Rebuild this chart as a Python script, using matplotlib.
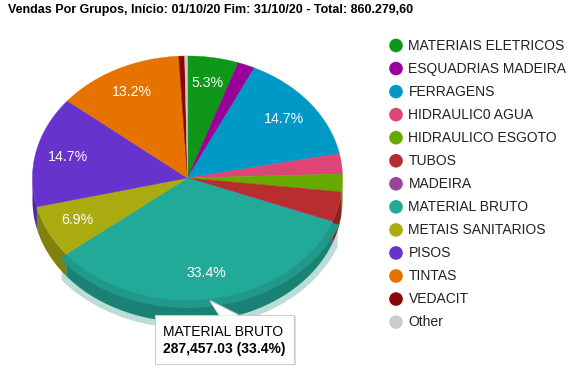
import numpy as np
import matplotlib
matplotlib.use("Agg")
import matplotlib.pyplot as plt
from matplotlib.patches import Polygon, Circle, Rectangle
from matplotlib.colors import to_rgb

plt.rcParams['font.family'] = ['Liberation Sans', 'DejaVu Sans']

# data
groups = ['MATERIAIS ELETRICOS', 'ESQUADRIAS MADEIRA', 'FERRAGENS', 'HIDRAULIC0 AGUA',
          'HIDRAULICO ESGOTO', 'TUBOS', 'MADEIRA', 'MATERIAL BRUTO', 'METAIS SANITARIOS',
          'PISOS', 'TINTAS', 'VEDACIT', 'Other']
values = [45600, 15500, 126400, 23022.57, 20200, 34000, 900, 287457.03, 59400,
          126500, 113600, 5200, 2500]
colors = ['#109618', '#990099', '#0099c6', '#dd4477', '#66aa00', '#b82e2e', '#994499',
          '#22aa99', '#aaaa11', '#6633cc', '#e67300', '#8b0707', '#cccccc']
hovered = 'MATERIAL BRUTO'
title = 'Vendas Por Grupos, Início: 01/10/20 Fim: 31/10/20 - Total: 860.279,60'

W, H = 578, 371
fig = plt.figure(figsize=(W / 100, H / 100), dpi=100)
ax = fig.add_axes([0, 0, 1, 1])
ax.set_xlim(0, W)
ax.set_ylim(H, 0)
ax.axis('off')

cx, cy, rx, ry, depth = 187.5, 178, 155, 122, 22


def pt(theta, ex=0.0, dy=0.0):
    t = np.radians(theta)
    return cx + (rx + ex) * np.sin(t), cy - (ry + ex) * np.cos(t) + dy


def arc(a, b, ex=0.0, dy=0.0, n=80):
    th = np.linspace(a, b, n)
    xs, ys = pt(th, ex, dy)
    return np.column_stack([xs, ys])


def darker(c, f=0.76):
    return tuple(v * f for v in to_rgb(c))


total = sum(values)
angles = np.concatenate([[0], np.cumsum(values) / total * 360])

# hover halo of the highlighted slice (under everything)
hi = groups.index(hovered)
a0, a1 = angles[hi], angles[hi + 1]
halo = '#bcdcd7'
for dy in (0, depth):
    poly = np.vstack([[[cx, cy + dy]], arc(a0, a1, 6, dy)])
    ax.add_patch(Polygon(poly, closed=True, color=halo, lw=0, zorder=1))
s0, s1 = max(a0, 90), min(a1, 270)
ax.add_patch(Polygon(np.vstack([arc(s0, s1, 6), arc(s0, s1, 6, depth)[::-1]]),
                     closed=True, color=halo, lw=0, zorder=1))

# side walls (front half only)
for i, c in enumerate(colors):
    a, b = max(angles[i], 90), min(angles[i + 1], 270)
    if b <= a:
        continue
    side = np.vstack([arc(a, b), arc(a, b, 0, depth)[::-1]])
    ax.add_patch(Polygon(side, closed=True, color=darker(c), lw=0, zorder=2))

# lighter band of the hover ring over the side wall
band = np.vstack([[[cx, cy]], arc(a0, a1, 8)])
ax.add_patch(Polygon(band, closed=True, color='#20988a', lw=0, zorder=3))

# top faces
for i, c in enumerate(colors):
    poly = np.vstack([[[cx, cy]], arc(angles[i], angles[i + 1])])
    ax.add_patch(Polygon(poly, closed=True, color=c, lw=0.3, ec=c, zorder=4))

# slice labels
for i, v in enumerate(values):
    pct = v / total * 100
    if pct < 5:
        continue
    mid = (angles[i] + angles[i + 1]) / 2
    t = np.radians(mid)
    x = cx + 0.79 * rx * np.sin(t)
    y = cy - 0.79 * ry * np.cos(t)
    ax.text(x, y, f'{pct:.1f}%', color='white', fontsize=10.2, ha='center',
            va='center', zorder=5)

# title
ax.text(8, 10, title, fontsize=9.0, fontweight='bold', color='#000000',
        ha='left', va='center')

# legend
for i, (g, c) in enumerate(zip(groups, colors)):
    y = 45.5 + i * 23.05
    ax.add_patch(Circle((396, y), 6.8, color=c, lw=0))
    ax.text(408.5, y, g, fontsize=10.0, color='#222222', ha='left', va='center')

# tooltip
bx, by, bw, bh = 155, 314.5, 139, 49
ax.add_patch(Rectangle((bx + 1.5, by + 1.5), bw, bh, color='#dddddd', lw=0, zorder=6))
ax.add_patch(Polygon([[210, 300.5], [219, by + 0.6], [239, by + 0.6]], closed=True,
                     fc='white', ec='#cccccc', lw=0.8, zorder=7))
ax.add_patch(Rectangle((bx, by), bw, bh, fc='white', ec='#cccccc', lw=0.8, zorder=7))
ax.add_patch(Polygon([[210.5, 302], [220, by + 1.2], [238, by + 1.2]], closed=True,
                     fc='white', ec='none', lw=0, zorder=8))
v = values[hi]
ax.text(163, 331.5, hovered, fontsize=10.0, color='#000000', ha='left',
        va='center', zorder=9)
ax.text(163, 349.5, f'{v:,.2f} ({v / total * 100:.1f}%)', fontsize=10.0,
        fontweight='bold', color='#000000', ha='left', va='center', zorder=9)

fig.savefig('out.png', dpi=100)
